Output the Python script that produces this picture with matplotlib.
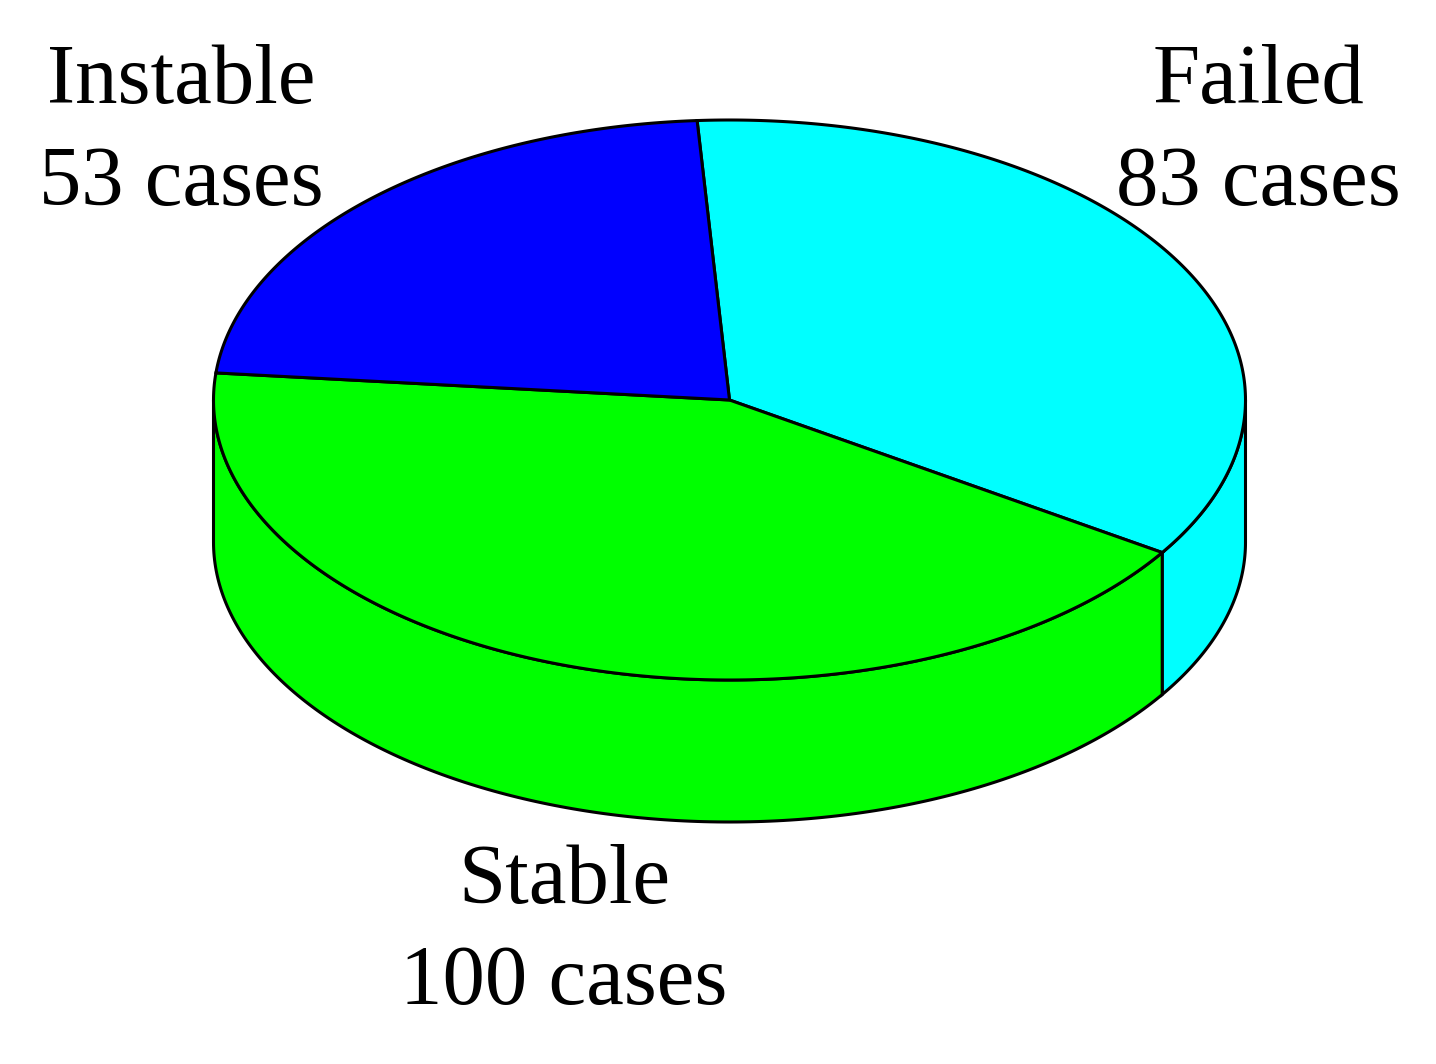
import numpy as np
import matplotlib
matplotlib.use('Agg')
import matplotlib.pyplot as plt
from matplotlib.patches import Polygon

# pie data
names = ['Failed', 'Stable', 'Instable']
cases = [83, 100, 53]
colors = ['#00ffff', '#00ff00', '#0000ff']

cx, cy = 729.5, 400
rx, ry = 516, 280
depth = 142
start_angle = 93.6

plt.rcParams['font.family'] = ['Liberation Serif', 'DejaVu Serif']
fig = plt.figure(figsize=(14.36, 10.64), dpi=100)
ax = fig.add_axes([0, 0, 1, 1])
ax.set_xlim(0, 1436)
ax.set_ylim(1064, 0)
ax.axis('off')


def rim(a1, a2, dy=0):
    t = np.radians(np.linspace(a1, a2, 200))
    return np.column_stack([cx + rx * np.cos(t), cy - ry * np.sin(t) + dy])


a = start_angle
for n, c, col in zip(names, cases, colors):
    a2 = a - c / sum(cases) * 360

    # side wall, only the front half of the disc shows
    s1 = max(min(a, 0), -180)
    s2 = max(a2, -180)
    if s2 < s1:
        top = rim(s1, s2)
        bottom = rim(s2, s1, depth)
        ax.add_patch(Polygon(np.vstack([top, bottom]), closed=True, fc=col, ec='black', lw=2.2, zorder=2))

    # top face
    pts = np.vstack([[cx, cy], rim(a, a2)])
    ax.add_patch(Polygon(pts, closed=True, fc=col, ec='black', lw=2.2, zorder=3))
    a = a2

fs = 61
ax.text(181, 102.5, 'Instable', ha='center', va='baseline', fontsize=fs)
ax.text(181, 205, f'{cases[2]} cases', ha='center', va='baseline', fontsize=fs)
ax.text(1258, 102.5, 'Failed', ha='center', va='baseline', fontsize=fs)
ax.text(1258, 205, f'{cases[0]} cases', ha='center', va='baseline', fontsize=fs)
ax.text(564, 902.5, 'Stable', ha='center', va='baseline', fontsize=fs)
ax.text(564, 1004, f'{cases[1]} cases', ha='center', va='baseline', fontsize=fs)

fig.savefig('out.png', dpi=100, facecolor='white')
